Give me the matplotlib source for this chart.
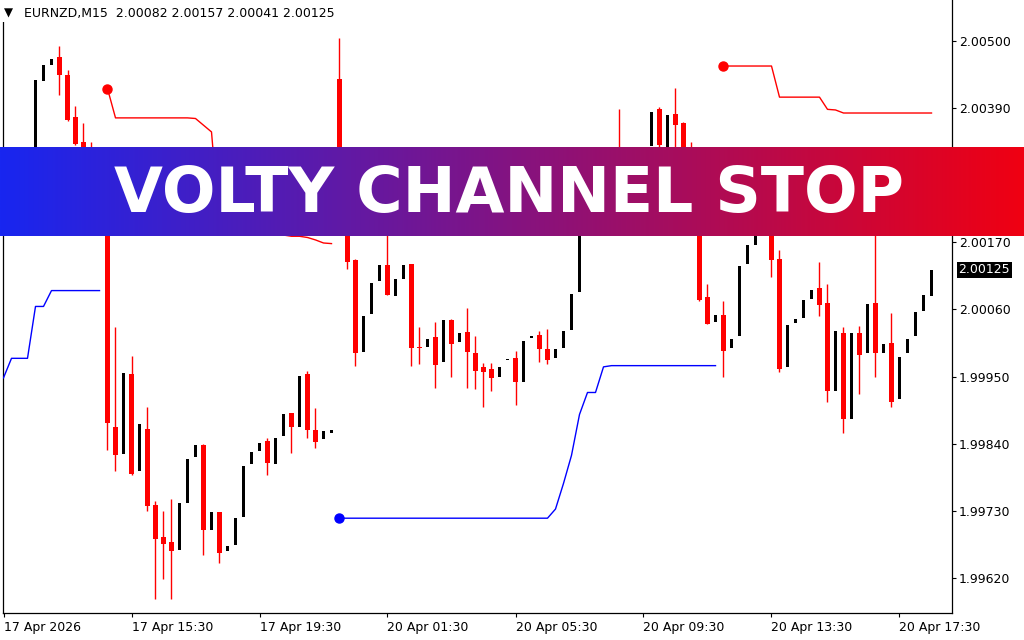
import numpy as np
import matplotlib
matplotlib.use("Agg")
import matplotlib.pyplot as plt
from matplotlib.patches import Rectangle

# ---------------- data ----------------
symbol = "EURNZD,M15"
opens = [2.00195, 2.00230, 2.00270, 2.00250, 2.00300, 2.00435, 2.00460, 2.00473, 2.00444, 2.00376,
         2.00334, 2.00290, 2.00250, 2.00230, 1.99868, 1.99823, 1.99954, 1.99795, 1.99864, 1.99740,
         1.99687, 1.99679, 1.99666, 1.99743, 1.99819, 1.99838, 1.99699, 1.99728, 1.99665, 1.99674,
         1.99720, 1.99806, 1.99828, 1.99845, 1.99806, 1.99853, 1.99891, 1.99868, 1.99954, 1.99863,
         1.99847, 1.99858, 2.00438, 2.00270, 2.00141, 1.99991, 2.00052, 2.00106, 2.00133, 2.00082,
         2.00110, 2.00134, 1.99998, 1.99999, 2.00015, 1.99974, 2.00042, 2.00006, 2.00023, 1.99989,
         1.99965, 1.99962, 1.99950, 1.99977, 1.99980, 1.99942, 2.00014, 2.00018, 1.99995, 1.99980,
         1.99997, 2.00026, 2.00089, 2.00182, 2.00265, 2.00295, 2.00280, 2.00320, 2.00290, 2.00260,
         2.00290, 2.00328, 2.00388, 2.00300, 2.00380, 2.00366, 2.00290, 2.00260, 2.00080, 2.00039,
         2.00051, 1.99997, 2.00016, 2.00134, 2.00166, 2.00200, 2.00235, 2.00142, 1.99965, 2.00038,
         2.00046, 2.00077, 2.00095, 2.00071, 1.99927, 2.00021, 1.99880, 2.00021, 1.99988, 2.00071,
         1.99988, 2.00005, 1.99914, 1.99988, 2.00016, 2.00057, 2.00082]
highs = [2.00230, 2.00270, 2.00285, 2.00300, 2.00436, 2.00460, 2.00471, 2.00492, 2.00453, 2.00394,
         2.00366, 2.00334, 2.00260, 2.00240, 2.00031, 1.99956, 1.99983, 1.99872, 1.99901, 1.99747,
         1.99730, 1.99749, 1.99743, 1.99815, 1.99838, 1.99840, 1.99728, 1.99728, 1.99672, 1.99719,
         1.99803, 1.99827, 1.99841, 1.99849, 1.99849, 1.99889, 1.99891, 1.99951, 1.99959, 1.99898,
         1.99861, 1.99863, 2.00505, 2.00275, 2.00143, 2.00049, 2.00103, 2.00133, 2.00195, 2.00110,
         2.00133, 2.00134, 2.00031, 2.00011, 2.00039, 2.00042, 2.00045, 2.00021, 2.00062, 2.00017,
         1.99972, 1.99972, 1.99965, 1.99979, 1.99992, 2.00009, 2.00017, 2.00024, 2.00028, 1.99995,
         2.00024, 2.00086, 2.00215, 2.00265, 2.00295, 2.00300, 2.00327, 2.00389, 2.00300, 2.00290,
         2.00320, 2.00383, 2.00392, 2.00379, 2.00423, 2.00368, 2.00335, 2.00265, 2.00102, 2.00051,
         2.00074, 2.00012, 2.00131, 2.00165, 2.00200, 2.00240, 2.00245, 2.00157, 2.00034, 2.00044,
         2.00075, 2.00092, 2.00138, 2.00101, 2.00024, 2.00031, 2.00021, 2.00033, 2.00069, 2.00215,
         2.00003, 2.00054, 1.99982, 2.00012, 2.00056, 2.00083, 2.00157]
lows = [2.00195, 2.00230, 2.00240, 2.00250, 2.00300, 2.00435, 2.00460, 2.00412, 2.00369, 2.00329,
        2.00280, 2.00240, 2.00215, 1.99829, 1.99795, 1.99823, 1.99789, 1.99795, 1.99729, 1.99586,
        1.99619, 1.99586, 1.99666, 1.99743, 1.99819, 1.99658, 1.99699, 1.99645, 1.99665, 1.99674,
        1.99720, 1.99806, 1.99828, 1.99788, 1.99806, 1.99853, 1.99825, 1.99868, 1.99850, 1.99833,
        1.99847, 1.99858, 2.00262, 2.00127, 1.99968, 1.99991, 2.00052, 2.00106, 2.00083, 2.00082,
        2.00110, 1.99968, 1.99971, 1.99999, 1.99932, 1.99974, 1.99950, 2.00006, 1.99932, 1.99930,
        1.99900, 1.99927, 1.99950, 1.99977, 1.99904, 1.99942, 2.00014, 1.99974, 1.99971, 1.99980,
        1.99997, 2.00026, 2.00089, 2.00182, 2.00265, 2.00275, 2.00280, 2.00285, 2.00250, 2.00260,
        2.00290, 2.00328, 2.00320, 2.00300, 2.00300, 2.00280, 2.00250, 2.00074, 2.00037, 2.00039,
        1.99950, 1.99997, 2.00016, 2.00134, 2.00166, 2.00200, 2.00114, 1.99957, 1.99965, 2.00038,
        2.00046, 2.00077, 2.00049, 1.99909, 1.99927, 1.99857, 1.99880, 1.99922, 1.99988, 1.99950,
        1.99988, 1.99901, 1.99914, 1.99988, 2.00016, 2.00057, 2.00041]
closes = [2.00230, 2.00270, 2.00250, 2.00300, 2.00436, 2.00460, 2.00471, 2.00445, 2.00371, 2.00331,
          2.00290, 2.00250, 2.00230, 1.99874, 1.99821, 1.99956, 1.99791, 1.99872, 1.99738, 1.99684,
          1.99676, 1.99665, 1.99743, 1.99815, 1.99838, 1.99698, 1.99728, 1.99661, 1.99672, 1.99719,
          1.99803, 1.99827, 1.99841, 1.99808, 1.99849, 1.99889, 1.99868, 1.99951, 1.99863, 1.99843,
          1.99861, 1.99863, 2.00270, 2.00138, 1.99989, 2.00049, 2.00103, 2.00133, 2.00083, 2.00110,
          2.00133, 1.99997, 1.99997, 2.00011, 1.99969, 2.00042, 2.00004, 2.00021, 1.99991, 1.99960,
          1.99958, 1.99948, 1.99965, 1.99979, 1.99942, 2.00009, 2.00017, 1.99995, 1.99978, 1.99995,
          2.00024, 2.00086, 2.00215, 2.00265, 2.00295, 2.00280, 2.00327, 2.00290, 2.00260, 2.00290,
          2.00320, 2.00383, 2.00330, 2.00379, 2.00363, 2.00290, 2.00260, 2.00075, 2.00037, 2.00051,
          1.99992, 2.00012, 2.00131, 2.00165, 2.00200, 2.00240, 2.00141, 1.99962, 2.00034, 2.00044,
          2.00075, 2.00092, 2.00068, 1.99927, 2.00024, 1.99880, 2.00021, 1.99986, 2.00069, 1.99988,
          2.00003, 1.99909, 1.99982, 2.00012, 2.00056, 2.00083, 2.00125]

nan = np.nan
# Volty channel stop, lower (uptrend, blue) line
stop_up = ([1.99948, 1.99980, 1.99980, 1.99980, 2.00065, 2.00065, 2.00091, 2.00091, 2.00091, 2.00091,
            2.00091, 2.00091, 2.00091] + [nan] * 29 +
           [1.99718] * 27 +
           [1.99733, 1.99775, 1.99821, 1.99888, 1.99924, 1.99924, 1.99966] +
           [1.99968] * 14 + [nan] * 27)
# upper (downtrend, red) line
stop_dn = ([nan] * 13 +
           [2.00422, 2.00374, 2.00374, 2.00374, 2.00374, 2.00374, 2.00374, 2.00374, 2.00374, 2.00374,
            2.00374, 2.00373, 2.00362, 2.00351, 2.00195, 2.00192, 2.00190, 2.00188, 2.00187, 2.00186,
            2.00185, 2.00184, 2.00182, 2.00180, 2.00180, 2.00178, 2.00174, 2.00169, 2.00168] +
           [nan] * 48 +
           [2.00459, 2.00459, 2.00459, 2.00459, 2.00459, 2.00459, 2.00459,
            2.00408, 2.00408, 2.00408, 2.00408, 2.00408, 2.00408,
            2.00388, 2.00387, 2.00382, 2.00382, 2.00382, 2.00382, 2.00382, 2.00382,
            2.00382, 2.00382, 2.00382, 2.00382, 2.00382, 2.00382])

ytick_vals = [1.99620, 1.99730, 1.99840, 1.99950, 2.00060, 2.00170, 2.00280, 2.00390, 2.00500]
xtick_bars = [0, 16, 32, 48, 64, 80, 96, 112]
xtick_labels = ["17 Apr 2026", "17 Apr 15:30", "17 Apr 19:30", "20 Apr 01:30",
                "20 Apr 05:30", "20 Apr 09:30", "20 Apr 13:30", "20 Apr 17:30"]
banner_title = "VOLTY CHANNEL STOP"

# ---------------- figure ----------------
W, H = 1024, 640
fig = plt.figure(figsize=(W / 100, H / 100), dpi=100)
fig.patch.set_facecolor("white")

ax_l, ax_r, ax_t, ax_b = 2.5, 952.0, 0.0, 613.0
ax = fig.add_axes([ax_l / W, 1 - ax_b / H, (ax_r - ax_l) / W, (ax_b - ax_t) / H])

o = np.array(opens); h = np.array(highs); l = np.array(lows); c = np.array(closes)
x = np.arange(len(o))
bull = c >= o
bear = ~bull

RED = "#ff0000"
# wicks (bull wicks white as in MT4 default "bar up" color)
ax.vlines(x[bear], l[bear], h[bear], color=RED, lw=1.0, zorder=2)
ax.vlines(x[bull], l[bull], h[bull], color="white", lw=1.0, zorder=2)

minh = 1.7e-5
body_lo = np.minimum(o, c)
body_h = np.maximum(np.abs(c - o), minh)
ax.bar(x[bear], body_h[bear], bottom=body_lo[bear], width=0.6, color=RED,
       edgecolor="none", zorder=3)
ax.bar(x[bull], body_h[bull], bottom=body_lo[bull], width=0.36, color="black",
       edgecolor="none", zorder=3)

su = np.array(stop_up, dtype=float)
sd = np.array(stop_dn, dtype=float)
ax.plot(x, su, color="#0000ff", lw=1.0, zorder=4)
ax.plot(x, sd, color=RED, lw=1.0, zorder=4)


def seg_starts(arr):
    valid = ~np.isnan(arr)
    return [i for i in range(1, len(arr)) if valid[i] and not valid[i - 1]]


for i in seg_starts(su):
    ax.plot(x[i], su[i], "o", color="#0000ff", ms=6.5, zorder=5)
for i in seg_starts(sd):
    ax.plot(x[i], sd[i], "o", color=RED, ms=6.5, zorder=5)

# scales
px_per_bar = 8.0
bar0_px = 3.5
ax.set_xlim((ax_l - bar0_px) / px_per_bar, (ax_r - bar0_px) / px_per_bar)
p_per_px = (2.00500 - 1.99620) / (578 - 41)
ax.set_ylim(2.00500 - (ax_b - 41) * p_per_px, 2.00500 + (41 - ax_t) * p_per_px)

ax.yaxis.tick_right()
ax.set_yticks(ytick_vals)
ax.set_yticklabels([f"{v:.5f}" for v in ytick_vals])
ax.set_xticks(xtick_bars)
ax.set_xticklabels(xtick_labels, ha="left")
ax.tick_params(axis="y", direction="out", length=3, width=0.8, pad=2,
               labelsize=9, colors="black")
ax.tick_params(axis="x", direction="out", length=3, width=0.8, pad=3,
               labelsize=9, colors="black")
for sp in ax.spines.values():
    sp.set_color("black")
    sp.set_linewidth(0.9)
ax.spines["top"].set_visible(False)

# current price box
ax.annotate(f"{c[-1]:.5f}", xy=(1, c[-1]), xycoords=ax.get_yaxis_transform(),
            xytext=(4.6, 0), textcoords="offset points", ha="left", va="center",
            color="white", fontsize=9, annotation_clip=False, zorder=6,
            bbox=dict(boxstyle="square,pad=0.12", fc="black", ec="none"))

# header (with white background covering the frame corner)
fig.patches.append(Rectangle((0, 1 - 21.5 / H), 338 / W, 21.5 / H, transform=fig.transFigure,
                             facecolor="white", edgecolor="none", zorder=8))
fig.text(4 / W, 1 - 13 / H, "\u25BC", fontsize=8.5, va="center", ha="left", color="black",
         zorder=9)
fig.text(24 / W, 1 - 14 / H,
         f"{symbol}  {o[-1]:.5f} {h[-1]:.5f} {l[-1]:.5f} {c[-1]:.5f}",
         fontsize=9, va="center", ha="left", color="black", zorder=9)

# banner with gradient
b_top, b_bot = 147.0, 236.0
bax = fig.add_axes([0, 1 - b_bot / H, 1, (b_bot - b_top) / H], zorder=10)
left_col = np.array([24, 38, 240]) / 255
right_col = np.array([240, 0, 18]) / 255
t = np.linspace(0, 1, 512)
grad = (left_col[None, :] * (1 - t[:, None]) + right_col[None, :] * t[:, None])[None, :, :]
bax.imshow(grad, aspect="auto", extent=[0, 1, 0, 1], interpolation="bilinear")
bax.set_xlim(0, 1); bax.set_ylim(0, 1)
bax.axis("off")

txt = fig.text(509.5 / W, 1 - 212 / H, banner_title, color="white",
               fontsize=46, fontweight="bold", fontfamily="DejaVu Sans",
               ha="center", va="baseline", zorder=11)
fig.canvas.draw()
bb = txt.get_window_extent(renderer=fig.canvas.get_renderer())
target_w = 905 - 114
txt.set_fontsize(46 * target_w / bb.width)

fig.savefig("out.png", dpi=100, facecolor="white")
